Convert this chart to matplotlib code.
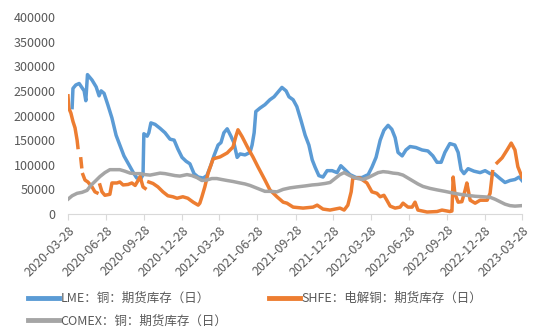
import numpy as np
import pandas as pd
import matplotlib
matplotlib.use('Agg')
import matplotlib.pyplot as plt

plt.rcParams['font.family'] = ['Noto Sans CJK SC', 'DejaVu Sans']

nan = np.nan

# LME copper warehouse stocks (tonnes)
lme_dates = ['2020-04-07', '2020-04-09', '2020-04-16', '2020-04-24', '2020-05-06', '2020-05-10',
             '2020-05-14', '2020-05-25', '2020-06-04', '2020-06-11', '2020-06-16', '2020-06-23',
             '2020-07-02', '2020-07-12', '2020-07-22', '2020-07-31', '2020-08-10', '2020-08-22',
             '2020-09-03', '2020-09-10', '2020-09-20', '2020-09-25', '2020-09-27', '2020-10-05',
             '2020-10-09', '2020-10-14', '2020-10-24', '2020-11-05', '2020-11-17', '2020-11-29',
             '2020-12-09', '2020-12-18', '2020-12-28', '2021-01-07', '2021-01-16', '2021-01-26',
             '2021-02-05', '2021-02-17', '2021-02-26', '2021-03-08', '2021-03-15', '2021-03-25',
             '2021-04-01', '2021-04-08', '2021-04-16', '2021-04-25', '2021-05-02', '2021-05-10',
             '2021-05-17', '2021-05-29', '2021-06-10', '2021-06-15', '2021-06-20', '2021-06-24',
             '2021-07-04', '2021-07-16', '2021-07-28', '2021-08-07', '2021-08-19', '2021-08-26',
             '2021-09-05', '2021-09-12', '2021-09-22', '2021-10-01', '2021-10-11', '2021-10-21',
             '2021-10-30', '2021-11-07', '2021-11-14', '2021-11-23', '2021-12-03', '2021-12-13',
             '2021-12-25', '2022-01-06', '2022-01-15', '2022-01-25', '2022-02-06', '2022-02-21',
             '2022-03-07', '2022-03-22', '2022-03-31', '2022-04-10', '2022-04-20', '2022-04-29',
             '2022-05-09', '2022-05-18', '2022-05-26', '2022-06-02', '2022-06-12', '2022-06-21',
             '2022-07-01', '2022-07-15', '2022-07-30', '2022-08-13', '2022-08-25', '2022-09-04',
             '2022-09-14', '2022-09-23', '2022-10-05', '2022-10-17', '2022-10-25', '2022-11-01',
             '2022-11-08', '2022-11-18', '2022-12-02', '2022-12-17', '2022-12-29', '2023-01-10',
             '2023-01-20', '2023-02-03', '2023-02-15', '2023-02-27', '2023-03-11', '2023-03-21',
             '2023-03-28']
lme_stock = [216000, 255000, 262000, 265000, 250000, 230000,
             283000, 272000, 258000, 240000, 250000, 245000,
             222000, 195000, 160000, 140000, 118000, 100000,
             82000, 73000, 72000, 80000, 163000, 158000,
             165000, 185000, 182000, 174000, 165000, 152000,
             150000, 132000, 115000, 107000, 102000, 82000,
             75000, 73000, 78000, 100000, 118000, 140000,
             145000, 165000, 173000, 158000, 145000, 115000,
             122000, 120000, 125000, 140000, 165000, 208000,
             215000, 222000, 232000, 238000, 250000, 257000,
             250000, 238000, 232000, 218000, 190000, 160000,
             140000, 110000, 95000, 78000, 75000, 88000,
             88000, 84000, 98000, 90000, 80000, 74000,
             74000, 80000, 95000, 115000, 150000, 170000,
             180000, 172000, 155000, 125000, 118000, 130000,
             137000, 135000, 130000, 128000, 118000, 105000,
             105000, 125000, 143000, 140000, 125000, 90000,
             82000, 92000, 87000, 84000, 88000, 82000,
             82000, 72000, 64000, 68000, 70000, 75000,
             68000]

# SHFE electrolytic copper stocks (tonnes), gaps where no data
shfe_dates = ['2020-03-28', '2020-03-30', '2020-04-04', '2020-04-09', '2020-04-14', '2020-04-19',
              '2020-04-21', '2020-04-25', '2020-04-28', '2020-04-30', '2020-05-02', '2020-05-03',
              '2020-05-08', '2020-05-15', '2020-05-25', '2020-06-01', '2020-06-06', '2020-06-10',
              '2020-06-13', '2020-06-18', '2020-06-25', '2020-07-07', '2020-07-12', '2020-07-24',
              '2020-07-31', '2020-08-08', '2020-08-20', '2020-08-29', '2020-09-06', '2020-09-13',
              '2020-09-18', '2020-09-25', '2020-09-30', '2020-10-05', '2020-10-09', '2020-10-19',
              '2020-10-31', '2020-11-12', '2020-11-24', '2020-12-06', '2020-12-16', '2020-12-30',
              '2021-01-11', '2021-01-24', '2021-02-05', '2021-02-09', '2021-02-14', '2021-02-21',
              '2021-03-01', '2021-03-13', '2021-03-30', '2021-04-16', '2021-04-30', '2021-05-07',
              '2021-05-12', '2021-05-22', '2021-06-05', '2021-06-17', '2021-06-29', '2021-07-16',
              '2021-07-28', '2021-08-14', '2021-08-29', '2021-09-07', '2021-09-22', '2021-10-16',
              '2021-11-09', '2021-11-19', '2021-12-03', '2021-12-20', '2022-01-13', '2022-01-23',
              '2022-02-01', '2022-02-09', '2022-02-13', '2022-03-02', '2022-03-19', '2022-03-31',
              '2022-04-12', '2022-04-20', '2022-04-29', '2022-05-06', '2022-05-14', '2022-05-26',
              '2022-06-07', '2022-06-14', '2022-06-26', '2022-07-06', '2022-07-13', '2022-07-20',
              '2022-08-11', '2022-09-04', '2022-09-16', '2022-10-05', '2022-10-10', '2022-10-13',
              '2022-10-17', '2022-10-25', '2022-11-03', '2022-11-11', '2022-11-15', '2022-11-23',
              '2022-12-05', '2022-12-17', '2023-01-03', '2023-01-10', '2023-01-16', '2023-01-22',
              '2023-01-27', '2023-02-08', '2023-02-20', '2023-03-02', '2023-03-11', '2023-03-18',
              '2023-03-28']
shfe_stock = [240000, 215000, 205000, 188000, 175000, 150000,
              135000, nan, 112000, 96000, nan, 80000,
              69000, 65000, 55000, 45000, 43000, nan,
              59000, 45000, 38000, 40000, 63000, 63000,
              65000, 59000, 60000, 63000, 58000, 68000,
              76000, 55000, 52000, nan, 65000, 62000,
              55000, 45000, 37000, 35000, 32000, 35000,
              32000, 24000, 18000, 22000, 35000, 55000,
              83000, 112000, 116000, 124000, 136000, 158000,
              171000, 157000, 134000, 116000, 96000, 69000,
              49000, 35000, 24000, 22000, 14000, 12000,
              14000, 18000, 10000, 8000, 12000, 8000,
              18000, 45000, 73000, 73000, 63000, 45000,
              42000, 35000, 38000, 28000, 16000, 12000,
              14000, 22000, 14000, 14000, 24000, 8000,
              4000, 5000, 8000, 5000, 6000, 75000,
              42000, 24000, 25000, 49000, 63000, 28000,
              22000, 28000, 28000, 42000, 86000, nan,
              104000, 114000, 130000, 144000, 130000, 96000,
              75000]

# COMEX copper stocks (short tons)
comex_dates = ['2020-03-28', '2020-04-07', '2020-04-19', '2020-05-01', '2020-05-13', '2020-05-22',
               '2020-06-01', '2020-06-13', '2020-06-25', '2020-07-07', '2020-07-19', '2020-07-31',
               '2020-08-12', '2020-08-25', '2020-09-06', '2020-09-18', '2020-09-30', '2020-10-12',
               '2020-10-24', '2020-11-05', '2020-11-17', '2020-11-29', '2020-12-11', '2020-12-23',
               '2021-01-09', '2021-01-21', '2021-02-02', '2021-02-14', '2021-02-26', '2021-03-10',
               '2021-03-22', '2021-04-03', '2021-04-16', '2021-04-30', '2021-05-17', '2021-05-29',
               '2021-06-10', '2021-06-22', '2021-07-04', '2021-07-16', '2021-07-28', '2021-08-14',
               '2021-08-29', '2021-09-14', '2021-10-01', '2021-10-21', '2021-11-07', '2021-11-21',
               '2021-12-08', '2021-12-20', '2022-01-01', '2022-01-13', '2022-01-23', '2022-02-01',
               '2022-02-13', '2022-02-25', '2022-03-09', '2022-03-22', '2022-04-03', '2022-04-15',
               '2022-04-27', '2022-05-09', '2022-05-21', '2022-06-02', '2022-06-14', '2022-06-26',
               '2022-07-08', '2022-07-20', '2022-08-01', '2022-08-18', '2022-09-04', '2022-09-23',
               '2022-10-10', '2022-10-29', '2022-11-15', '2022-12-05', '2022-12-24', '2023-01-10',
               '2023-01-22', '2023-02-03', '2023-02-15', '2023-02-27', '2023-03-11', '2023-03-28']
comex_stock = [30000, 37000, 42000, 44000, 48000, 58000,
               66000, 76000, 84000, 90000, 90000, 90000,
               87000, 83000, 82000, 82000, 80000, 79000,
               81000, 83000, 82000, 80000, 78000, 77000,
               80000, 78000, 74000, 68000, 69000, 72000,
               72000, 70000, 68000, 66000, 63000, 61000,
               58000, 54000, 50000, 46000, 46000, 45000,
               50000, 53000, 55000, 57000, 59000, 60000,
               62000, 64000, 72000, 80000, 84000, 80000,
               75000, 72000, 70000, 74000, 79000, 84000,
               86000, 85000, 83000, 82000, 79000, 73000,
               67000, 61000, 56000, 52000, 49000, 46000,
               43000, 40000, 38000, 36000, 35000, 34000,
               30000, 25000, 20000, 17000, 16000, 17000]

tick_labels = ['2020-03-28', '2020-06-28', '2020-09-28', '2020-12-28', '2021-03-28',
               '2021-06-28', '2021-09-28', '2021-12-28', '2022-03-28', '2022-06-28',
               '2022-09-28', '2022-12-28', '2023-03-28']

text_color = '#595959'

fig = plt.figure(figsize=(5.5, 3.3), dpi=100)
ax = fig.add_axes([0.1236, 0.3515, 0.8255, 0.597])

l1, = ax.plot(pd.to_datetime(lme_dates), lme_stock, color='#5B9BD5', lw=2.5,
              solid_joinstyle='round', label='LME：铜：期货库存（日）')
l2, = ax.plot(pd.to_datetime(shfe_dates), shfe_stock, color='#ED7D31', lw=2.5,
              solid_joinstyle='round', label='SHFE：电解铜：期货库存（日）')
l3, = ax.plot(pd.to_datetime(comex_dates), comex_stock, color='#A5A5A5', lw=2.5,
              solid_joinstyle='round', label='COMEX：铜：期货库存（日）')

ax.set_ylim(0, 400000)
ax.set_yticks(range(0, 400001, 50000))
ax.set_xlim(pd.Timestamp(tick_labels[0]), pd.Timestamp(tick_labels[-1]))
ax.set_xticks(pd.to_datetime(tick_labels))
ax.set_xticklabels(tick_labels, rotation=45, ha='right', rotation_mode='anchor')

for side in ['left', 'right', 'top']:
    ax.spines[side].set_visible(False)
ax.spines['bottom'].set_color('#D9D9D9')
ax.tick_params(axis='y', length=0, pad=9, labelcolor=text_color, labelsize=9)
ax.tick_params(axis='x', length=4, color='#D9D9D9', pad=3, labelcolor=text_color, labelsize=9)

leg = fig.legend(handles=[l1, l3, l2], ncol=2, frameon=False, loc='upper left',
                 bbox_to_anchor=(28 / 550, 1 - 292 / 330), borderpad=0, borderaxespad=0,
                 handlelength=2.5, handletextpad=0.1, columnspacing=3.3,
                 labelspacing=0.75, fontsize=9)
for t in leg.get_texts():
    t.set_color(text_color)
for h in leg.legend_handles:
    h.set_linewidth(3.5)

fig.savefig('out.png', dpi=100)
